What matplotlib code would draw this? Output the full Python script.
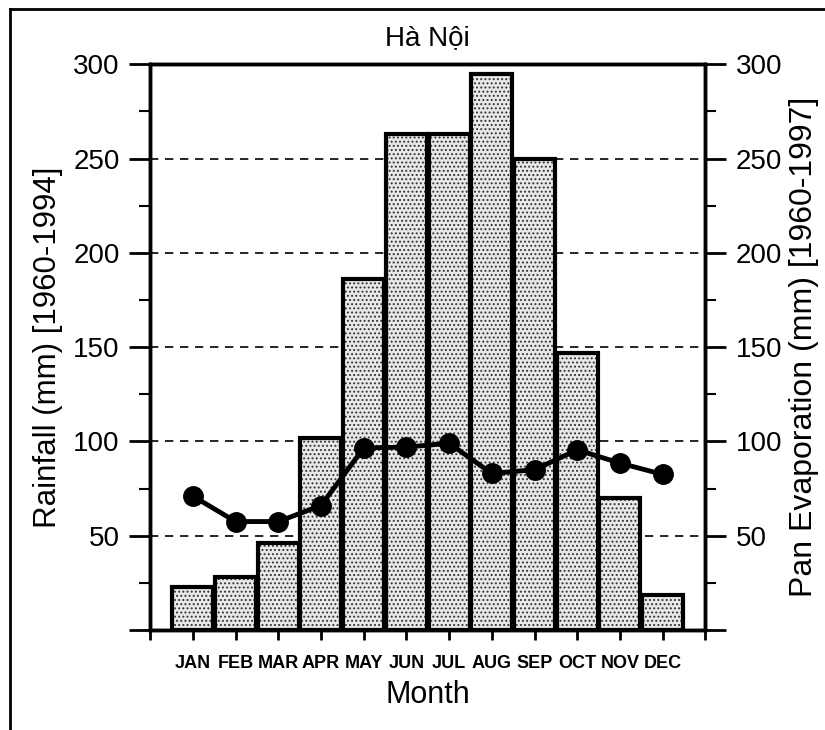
import matplotlib
matplotlib.use('Agg')
import matplotlib.pyplot as plt
from matplotlib.lines import Line2D

# Hà Nội monthly climate: rainfall (bars) and pan evaporation (line)
months = ['JAN', 'FEB', 'MAR', 'APR', 'MAY', 'JUN',
          'JUL', 'AUG', 'SEP', 'OCT', 'NOV', 'DEC']
rainfall = [23, 28, 46, 102, 186, 263, 263, 295, 250, 147, 70, 18.5]
evaporation = [71, 57.5, 57.5, 66, 96.5, 97, 99, 83, 85, 95.5, 88.5, 82.5]
grid_levels = [50, 100, 150, 200, 250]

plt.rcParams['font.family'] = ['Liberation Sans', 'DejaVu Sans']
plt.rcParams['hatch.linewidth'] = 0.9

fig = plt.figure(figsize=(8.25, 7.3), dpi=100)
ax = fig.add_axes([0.182, 0.137, 0.673, 0.775])
x = list(range(len(months)))

# dashed reference lines behind the bars
for lev in grid_levels:
    ax.axhline(lev, color='black', lw=1.2, ls=(0, (5, 4)), zorder=0)

# stippled fill, then the thick black outline on top
ax.bar(x, rainfall, width=0.96, color='#e8e8e8', hatch='....',
       edgecolor='#333333', linewidth=0, zorder=1)
ax.bar(x, rainfall, width=0.96, fill=False, edgecolor='black',
       linewidth=3, zorder=2)

ax.set_xlim(-1, 12)
ax.set_ylim(0, 300)
ax.set_xticks(range(-1, 13))
ax.set_xticklabels([''] + months + [''], fontsize=13, fontweight='bold')
ax.set_yticks(range(0, 301, 50))
ax.set_yticklabels([''] + [str(v) for v in range(50, 301, 50)])
ax.set_yticks(range(0, 301, 25), minor=True)
ax.tick_params(axis='x', length=7, width=2, pad=11)
ax.tick_params(axis='y', which='major', length=15, width=2, labelsize=20, pad=7)
ax.tick_params(axis='y', which='minor', length=8, width=1.5)
ax.set_xlabel('Month', fontsize=22, labelpad=6)
ax.set_ylabel('Rainfall (mm) [1960-1994]', fontsize=22.5, labelpad=7)
ax.set_title('Hà Nội', fontsize=20, pad=14)
for sp in ax.spines.values():
    sp.set_linewidth(2.5)

ax2 = ax.twinx()
ax2.plot(x, evaporation, color='black', lw=3.5, marker='o', ms=14, zorder=3)
ax2.set_ylim(0, 300)
ax2.set_yticks(range(0, 301, 50))
ax2.set_yticklabels([''] + [str(v) for v in range(50, 301, 50)])
ax2.set_yticks(range(0, 301, 25), minor=True)
ax2.tick_params(axis='y', which='major', length=15, width=2, labelsize=20, pad=7)
ax2.tick_params(axis='y', which='minor', length=8, width=1.5)
ax2.set_ylabel('Pan Evaporation (mm) [1960-1997]', fontsize=23, labelpad=5)
for sp in ax2.spines.values():
    sp.set_linewidth(2.5)

# scanned page frame (left and top edges)
fig.add_artist(Line2D([0.012, 0.012], [0.0, 0.987], transform=fig.transFigure,
                      color='black', lw=2))
fig.add_artist(Line2D([0.012, 1.0], [0.987, 0.987], transform=fig.transFigure,
                      color='black', lw=2))

fig.savefig('out.png', dpi=100)
